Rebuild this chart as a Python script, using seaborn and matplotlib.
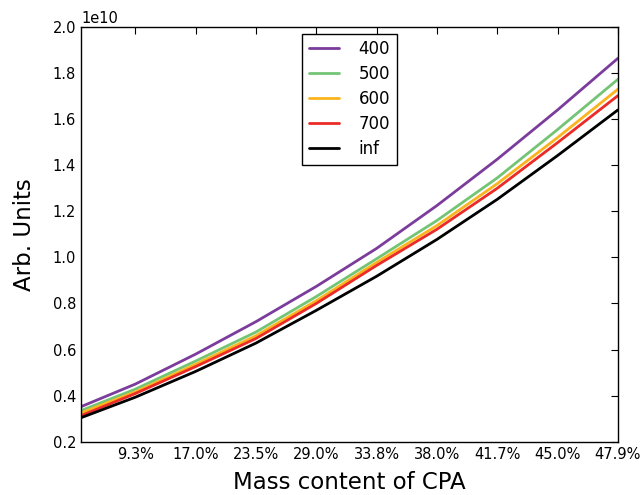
import pandas as pd
import matplotlib
matplotlib.use("Agg")
import matplotlib.pyplot as plt
import seaborn as sns

# molality-like x positions, labelled with the CPA mass content
x_vals = [0.1, 1, 2, 3, 4, 5, 6, 7, 8, 9]
tick_pos = [1, 2, 3, 4, 5, 6, 7, 8, 9]
tick_labels = ["9.3%", "17.0%", "23.5%", "29.0%", "33.8%", "38.0%", "41.7%", "45.0%", "47.9%"]

# curves (units of 1e10)
y_400 = [0.352, 0.450, 0.580, 0.721, 0.874, 1.039, 1.225, 1.426, 1.640, 1.864]
y_500 = [0.335, 0.428, 0.550, 0.676, 0.830, 0.994, 1.160, 1.345, 1.555, 1.773]
y_600 = [0.325, 0.416, 0.536, 0.660, 0.812, 0.978, 1.138, 1.320, 1.520, 1.730]
y_700 = [0.313, 0.409, 0.526, 0.648, 0.800, 0.965, 1.122, 1.300, 1.498, 1.702]
y_inf = [0.304, 0.393, 0.505, 0.628, 0.770, 0.918, 1.078, 1.252, 1.442, 1.640]

series = ["400", "500", "600", "700", "inf"]
colores = ["#7b3c9c", "#74c476", "#fbb41e", "#ec2a26", "#000000"]

filas = []
for nombre, ys in zip(series, [y_400, y_500, y_600, y_700, y_inf]):
    for x, y in zip(x_vals, ys):
        filas.append({"x": x, "y": y * 1e10, "serie": nombre})
df = pd.DataFrame(filas)

sns.set_style("white", rc={"text.color": "black", "axes.labelcolor": "black",
                           "xtick.color": "black", "ytick.color": "black"})
fig = plt.figure(figsize=(6.41, 4.95), dpi=100)
ax = fig.add_axes([0.1264, 0.1077, 0.8376, 0.8378])

sns.lineplot(data=df, x="x", y="y", hue="serie", hue_order=series,
             palette=colores, linewidth=2, ax=ax)

ax.set_xlim(0.1, 9)
ax.set_ylim(0.2e10, 2.0e10)
ax.set_yticks([v * 1e10 for v in [0.2, 0.4, 0.6, 0.8, 1.0, 1.2, 1.4, 1.6, 1.8, 2.0]])
ax.set_xticks(tick_pos)
ax.set_xticklabels(tick_labels)
ax.tick_params(direction="in", top=True, right=True, labelsize=10.5, length=5, width=0.8)
ax.yaxis.get_offset_text().set_fontsize(10.5)
for s in ax.spines.values():
    s.set_color("black")
    s.set_linewidth(1)

ax.set_xlabel("Mass content of CPA", fontsize=16.5, labelpad=7)
ax.set_ylabel("Arb. Units", fontsize=16.5, labelpad=12)

leg = ax.legend(loc="upper center", fontsize=12, frameon=True, fancybox=False,
                edgecolor="black", framealpha=1, borderaxespad=0.4,
                handlelength=1.8, handletextpad=1.2, labelspacing=0.42)
leg.get_frame().set_linewidth(1)

fig.savefig("out.png", dpi=100)
